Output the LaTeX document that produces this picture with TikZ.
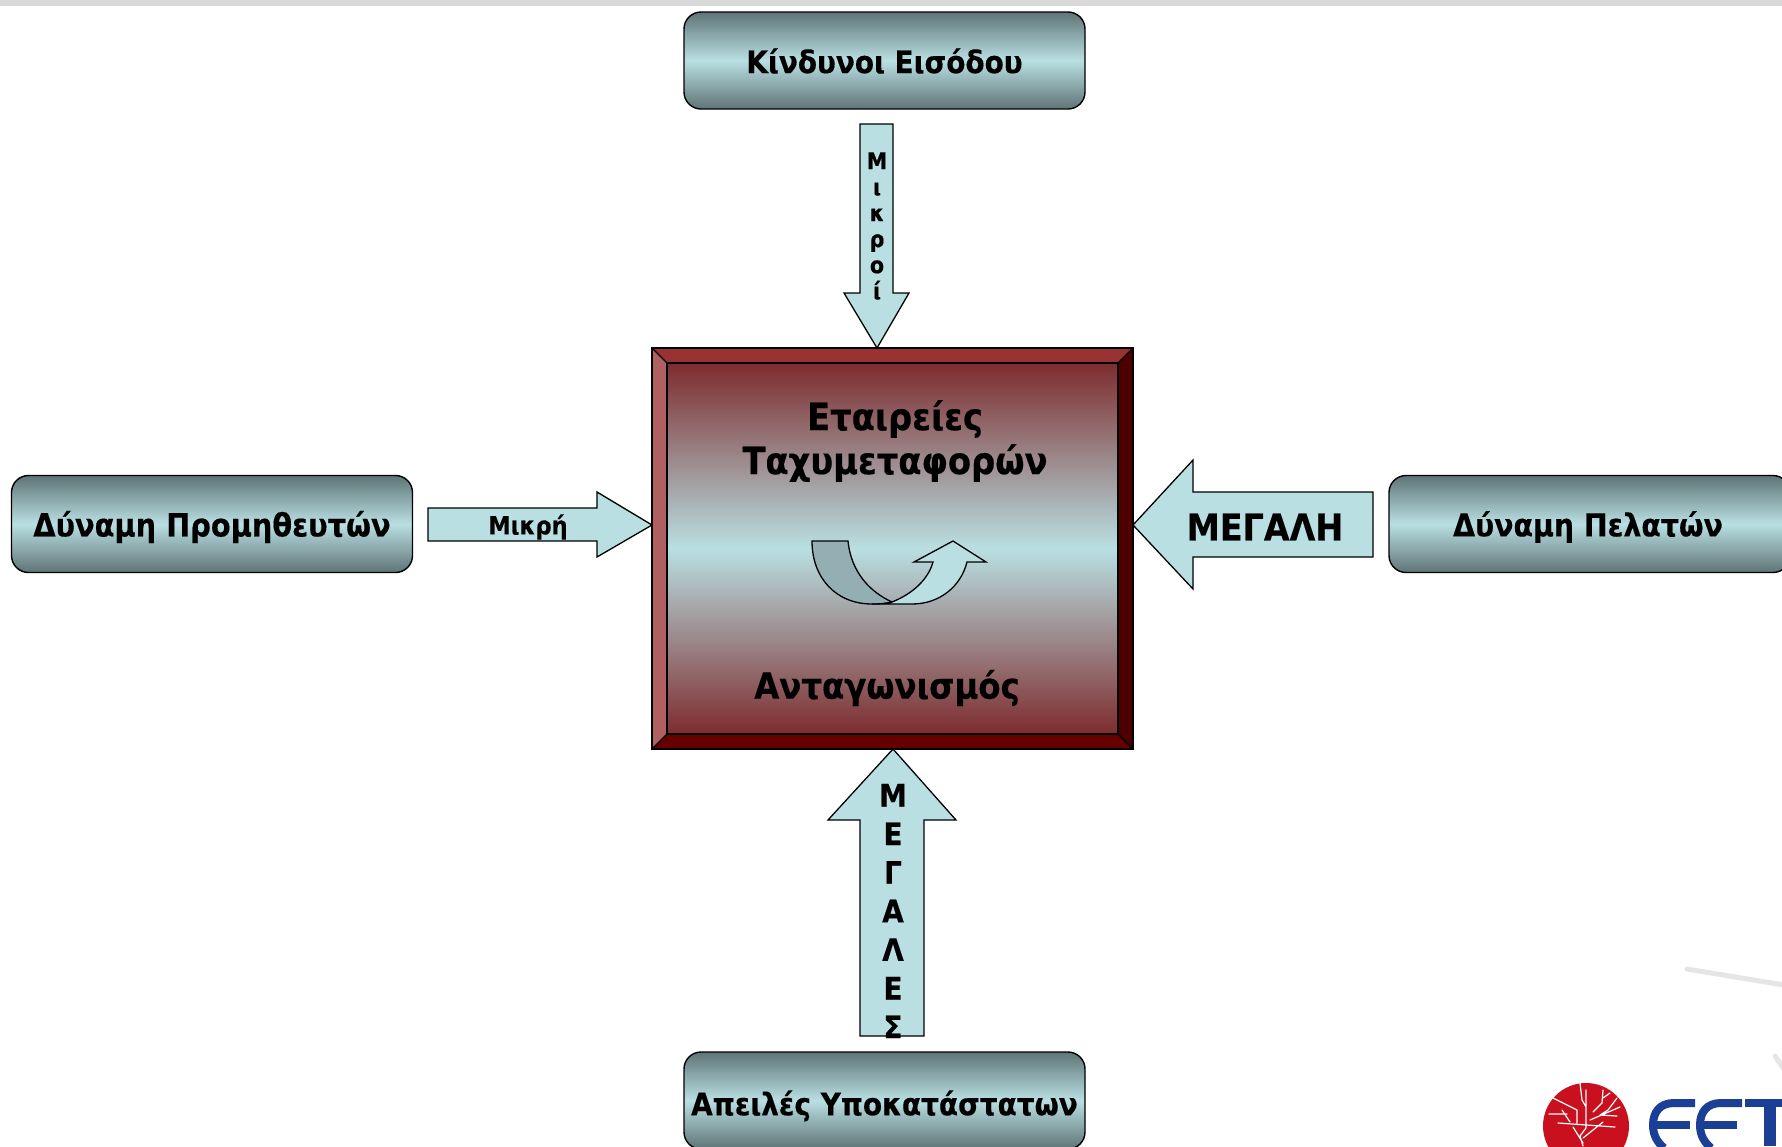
\documentclass[tikz,border=0pt]{standalone}
\usepackage{fontspec}
\setmainfont{DejaVu Sans}[FakeStretch=0.9,BoldFeatures={FakeBold=0.4}]
\definecolor{lightc}{HTML}{B9DFE2}
\definecolor{darkc}{HTML}{5F7476}
\definecolor{redc}{HTML}{7D2C2E}
\definecolor{bevT}{HTML}{993333}
\definecolor{bevL}{HTML}{B06060}
\definecolor{bevR}{HTML}{4C0000}
\definecolor{bevB}{HTML}{660000}
\definecolor{foldc}{HTML}{94AFB3}
\definecolor{logoblue}{HTML}{1B3F95}
\definecolor{logored}{HTML}{C8101E}
\tikzset{
 x=1pt,y=-1pt,
 forcebox/.style={draw=black,line width=1.4pt,rounded corners=17pt,top color=darkc,bottom color=darkc,middle color=lightc,inner sep=0pt,minimum height=97pt,minimum width=401pt},
 boxlbl/.style={font=\bfseries\fontsize{31}{36}\selectfont,inner sep=0pt,text=black},
 blockarrow/.style={draw=black,line width=1.3pt,fill=lightc,line join=miter},
 bevel/.style={draw=black,line width=1.3pt},
 lbl/.style={font=\bfseries,inner sep=0pt,align=center,text=black},
 streak/.style={draw=black!10,line width=5pt,line cap=round},
 logoE/.style={draw=logoblue,line width=8pt,line cap=butt},
 twig/.style={draw=white,line width=1.2pt,line cap=round,line join=round},
}
\begin{document}
\begin{tikzpicture}
\useasboundingbox (0,0) rectangle (1782,1146);
\begin{scope}
\clip (0,0) rectangle (1782,1146);
\fill[black!15] (0,0) rectangle (1782,6);
% streaks
\draw[streak] (1687,969) -- (1790,986);
\draw[streak] (1775,1056) -- (1790,1078);
% boxes
\node[forcebox] (top) at (884.5,60.5) {};
\node[boxlbl] (topT) at (884.5,61) {Κίνδυνοι Εισόδου};
\node[forcebox] (left) at (212,524) {};
\node[boxlbl,font=\bfseries\fontsize{32}{36}\selectfont] (leftT) at (212,527) {Δύναμη Προμηθευτών};
\node[forcebox] (right) at (1589.5,524) {};
\node[boxlbl,font=\bfseries\fontsize{31.5}{36}\selectfont] (rightT) at (1588,527) {Δύναμη Πελατών};
\node[forcebox] (bottom) at (884.5,1100.5) {};
\node[boxlbl] (bottomT) at (884.5,1106) {Απειλές Υποκατάστατων};
% centre box
\fill[bevT] (652,348) -- (1133,348) -- (1118,363) -- (667,363) -- cycle;
\fill[bevL] (652,348) -- (667,363) -- (667,734) -- (652,749) -- cycle;
\fill[bevR] (1133,348) -- (1118,363) -- (1118,734) -- (1133,749) -- cycle;
\fill[bevB] (652,749) -- (667,734) -- (1118,734) -- (1133,749) -- cycle;
\shade[top color=redc,bottom color=redc,middle color=lightc] (667,363) rectangle (1118,734);
\draw[bevel] (652,348) rectangle (1133,749);
\draw[bevel] (667,363) rectangle (1118,734);
\draw[bevel] (652,348) -- (667,363) (1133,348) -- (1118,363) (652,749) -- (667,734) (1133,749) -- (1118,734);
\node[lbl,font=\bfseries\fontsize{37.5}{44}\selectfont] (firms) at (895,441) {Εταιρείες\\Ταχυμεταφορών};
\node[lbl,font=\bfseries\fontsize{36}{38}\selectfont] (rivalry) at (887,688) {Ανταγωνισμός};
% curved arrow
\fill[foldc,draw=black,line width=1.3pt] (812,541) -- (848,541) .. controls (851,572) and (870,592) .. (892,602) .. controls (884,604) and (878,604) .. (872,604) .. controls (836,604) and (812,578) .. (812,541) -- cycle;
\fill[lightc,draw=black,line width=1.3pt] (872,604) -- (912,604) .. controls (940,604) and (961,586) .. (967,562) -- (986,562) -- (953,541) -- (914,562) -- (933,562) .. controls (928,580) and (912,594) .. (892,602) .. controls (886,604) and (878,604) .. (872,604) -- cycle;
% block arrows
\draw[blockarrow] (860,124) -- (893,124) -- (893,293) -- (909,293) -- (877,348) -- (844,293) -- (860,293) -- cycle;
\draw[blockarrow] (428,508) -- (597,508) -- (597,492) -- (652,525) -- (597,557) -- (597,541) -- (428,541) -- cycle;
\draw[blockarrow] (1373,492) -- (1193,492) -- (1193,460) -- (1133,525) -- (1193,589) -- (1193,557) -- (1373,557) -- cycle;
\draw[blockarrow] (860,1036) -- (860,820) -- (828,820) -- (893,749) -- (956,820) -- (924,820) -- (924,1036) -- cycle;
\node[lbl,font=\bfseries\fontsize{23}{26}\selectfont] (small1) at (877,226) {Μ\\ι\\κ\\ρ\\ο\\ί};
\node[lbl,font=\bfseries\fontsize{25}{26}\selectfont] (small2) at (528,527) {Μικρή};
\node[lbl,font=\bfseries\fontsize{37}{38}\selectfont] (big1) at (1265,527) {ΜΕΓΑΛΗ};
\node[lbl,font=\bfseries\fontsize{31}{38.6}\selectfont] (big2) at (893,911) {Μ\\Ε\\Γ\\Α\\Λ\\Ε\\Σ};
% logo
\fill[logored] (1586,1126) circle (43);
\draw[twig] (1583,1146) -- (1580,1136) -- (1586,1128) -- (1586,1090)
 (1580,1083) -- (1582,1100) -- (1586,1107)
 (1553,1098) -- (1577,1110) -- (1577,1123)
 (1549,1114) -- (1567,1114) (1562,1110) -- (1570,1122)
 (1558,1123) -- (1615,1127)
 (1620,1107) -- (1590,1120)
 (1603,1090) -- (1602,1103) -- (1593,1112)
 (1610,1093) -- (1603,1098)
 (1617,1098) -- (1608,1110) -- (1600,1115) -- (1617,1116)
 (1573,1127) -- (1583,1143)
 (1603,1122) -- (1593,1130) -- (1583,1138);
\draw[logoE] (1695,1103) -- (1674,1103) .. controls (1660,1103) and (1653,1112) .. (1653,1125) .. controls (1653,1135) and (1657,1142) .. (1664,1148);
\draw[logoE] (1690,1124.5) -- (1655,1124.5);
\draw[logoE] (1742,1103) -- (1721,1103) .. controls (1707,1103) and (1700,1112) .. (1700,1125) .. controls (1700,1135) and (1704,1142) .. (1711,1148);
\draw[logoE] (1737,1124.5) -- (1702,1124.5);
\draw[logoE] (1745,1103) -- (1782,1103);
\fill[logoblue] (1764,1103) rectangle (1776,1146);
\end{scope}
\end{tikzpicture}
\end{document}
